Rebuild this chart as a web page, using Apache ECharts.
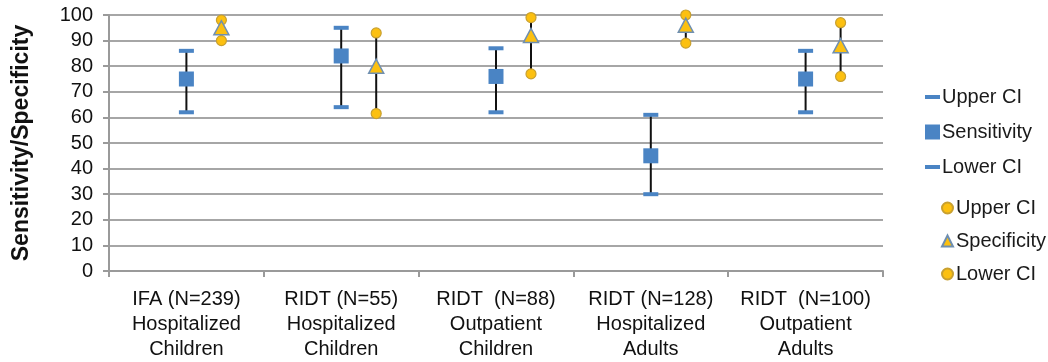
<!DOCTYPE html>
<html><head><meta charset="utf-8">
<script src="https://cdn.jsdelivr.net/npm/echarts@6/dist/echarts.min.js"></script>
<style>html,body{margin:0;padding:0;background:#fff}#c{width:1048px;height:362px}</style>
</head><body><div id="c"></div>
<script>
const categories = [
  'IFA (N=239)\nHospitalized\nChildren',
  'RIDT (N=55)\nHospitalized\nChildren',
  'RIDT  (N=88)\nOutpatient\nChildren',
  'RIDT (N=128)\nHospitalized\nAdults',
  'RIDT  (N=100)\nOutpatient\nAdults'
];
const sensitivity = [75, 84, 76, 45, 75];
const sensLower = [62, 64, 62, 30, 62];
const sensUpper = [86, 95, 87, 61, 86];
const specificity = [95, 80, 92, 96, 88];
const specLower = [90, 61.5, 77, 89, 76];
const specUpper = [98, 93, 99, 100, 97];
const yTicks = [0, 10, 20, 30, 40, 50, 60, 70, 80, 90, 100];

const BLUE = '#4a84c4';
const GOLD = '#fcc010';
const GOLD_BORDER = '#c8a030';
const SPEC_OFFSET = 35;
const FONT = 'Liberation Sans, Arial, sans-serif';

function errorSeries(lower, upper, offset) {
  return {
    type: 'custom',
    z: 1,
    silent: true,
    data: lower.map((l, i) => [i, l, upper[i]]),
    renderItem: function (params, api) {
      const p1 = api.coord([api.value(0), api.value(1)]);
      const p2 = api.coord([api.value(0), api.value(2)]);
      return {
        type: 'line',
        shape: {x1: p1[0] + offset, y1: p1[1], x2: p2[0] + offset, y2: p2[1]},
        style: {stroke: '#111', lineWidth: 2}
      };
    }
  };
}
const labelMap = {sU: 'Upper CI', s: 'Sensitivity', sL: 'Lower CI', pU: 'Upper CI', p: 'Specificity', pL: 'Lower CI'};
const dash = 'path://M0,0h15v4h-15z';

const chart = echarts.init(document.getElementById('c'));
chart.setOption({
  animation: false,
  textStyle: {fontFamily: FONT},
  grid: {left: 109, right: 165, top: 15, bottom: 91},
  legend: [
    {
      orient: 'vertical', left: 925, top: 87, itemGap: 15, itemWidth: 15, itemHeight: 15,
      selectedMode: false, padding: 0,
      formatter: n => labelMap[n],
      textStyle: {fontSize: 20, lineHeight: 20, color: '#1a1a1a', fontFamily: FONT, padding: [0, 0, 0, -3]},
      data: [{name: 'sU', icon: dash}, {name: 's', icon: 'rect'}, {name: 'sL', icon: dash}]
    },
    {
      orient: 'vertical', left: 941, top: 198, itemGap: 13, itemWidth: 11, itemHeight: 11,
      selectedMode: false, padding: 0,
      formatter: n => labelMap[n],
      textStyle: {fontSize: 20, lineHeight: 20, color: '#1a1a1a', fontFamily: FONT, padding: [0, 0, 0, -2]},
      data: [{name: 'pU', icon: 'circle'}, {name: 'p', icon: 'triangle'}, {name: 'pL', icon: 'circle'}]
    }
  ],
  xAxis: {
    type: 'category',
    data: categories,
    axisLine: {lineStyle: {color: '#9a9a9a', width: 2}},
    axisTick: {show: true, interval: 0, length: 6, lineStyle: {color: '#9a9a9a', width: 2}},
    axisLabel: {interval: 0, fontSize: 20, lineHeight: 25, color: '#111', margin: 16, fontFamily: FONT},
    splitLine: {show: false}
  },
  yAxis: {
    type: 'value', min: 0, max: 100, interval: 10,
    name: 'Sensitivity/Specificity', nameLocation: 'middle', nameGap: 76, nameRotate: 90,
    nameTextStyle: {fontSize: 23, fontWeight: 'bold', color: '#111', fontFamily: FONT},
    axisLine: {show: true, lineStyle: {color: '#9a9a9a', width: 2}},
    axisTick: {show: true, length: 6, lineStyle: {color: '#9a9a9a', width: 2}},
    axisLabel: {fontSize: 20, color: '#111', margin: 16, fontFamily: FONT,
      formatter: v => yTicks.includes(v) ? String(v) : ''},
    splitLine: {lineStyle: {color: '#a6a6a6', width: 2}}
  },
  series: [
    errorSeries(sensLower, sensUpper, 0),
    errorSeries(specLower, specUpper, SPEC_OFFSET),
    {name: 'sU', type: 'scatter', z: 3, symbol: 'rect', symbolSize: [15, 4], itemStyle: {color: BLUE, opacity: 1}, data: sensUpper},
    {name: 's', type: 'scatter', z: 3, symbol: 'rect', symbolSize: 15, itemStyle: {color: BLUE, opacity: 1}, data: sensitivity},
    {name: 'sL', type: 'scatter', z: 3, symbol: 'rect', symbolSize: [15, 4], itemStyle: {color: BLUE, opacity: 1}, data: sensLower},
    {name: 'pU', type: 'scatter', z: 3, symbol: 'circle', symbolSize: 10, symbolOffset: [SPEC_OFFSET, 0],
      itemStyle: {color: GOLD, borderColor: GOLD_BORDER, borderWidth: 1.2, opacity: 1}, data: specUpper},
    {name: 'pL', type: 'scatter', z: 3, symbol: 'circle', symbolSize: 10, symbolOffset: [SPEC_OFFSET, 0],
      itemStyle: {color: GOLD, borderColor: GOLD_BORDER, borderWidth: 1.2, opacity: 1}, data: specLower},
    {name: 'p', type: 'scatter', z: 4, symbol: 'triangle', symbolSize: [15, 14], symbolOffset: [SPEC_OFFSET, 0],
      itemStyle: {color: GOLD, borderColor: '#6f8fb0', borderWidth: 1.5, opacity: 1}, data: specificity}
  ]
});
</script></body></html>
